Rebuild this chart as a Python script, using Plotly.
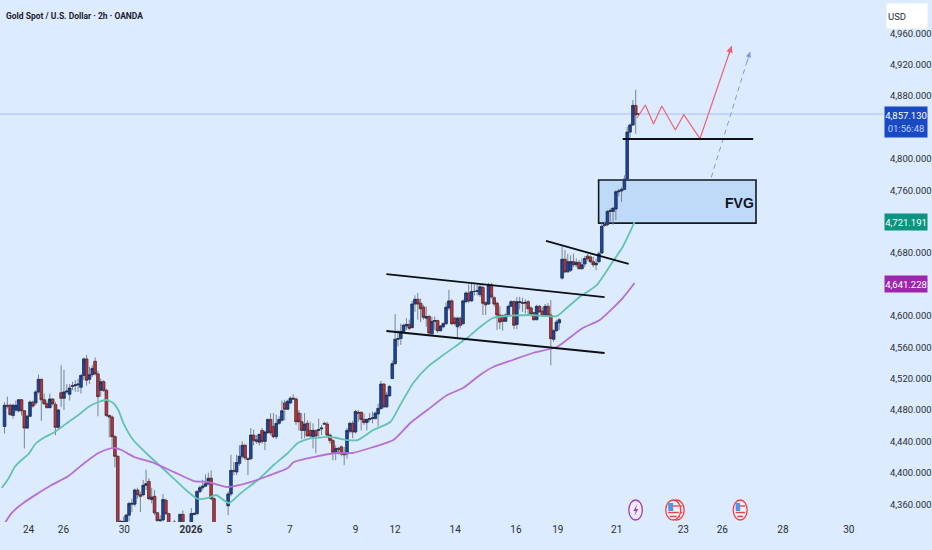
import plotly.graph_objects as go

# gold 2h candles
opens = [
    4459, 4486, 4486, 4473, 4480, 4479, 4493, 4479, 4457, 4472, 4490, 4489, 4503, 4519, 4493, 4488, 4483, 4494, 4487, 4458,
    4502, 4495, 4503, 4500, 4510, 4511, 4512, 4509, 4524, 4545, 4519, 4525, 4542, 4526, 4505, 4516, 4505, 4473, 4471, 4446,
    4421, 4337, 4337, 4338, 4346, 4360, 4360, 4378, 4372, 4372, 4384, 4389, 4366, 4370, 4349, 4339, 4340, 4365, 4348, 4333,
    4336, 4335, 4336, 4347, 4334, 4330, 4336, 4347, 4348, 4376, 4381, 4383, 4386, 4393, 4367, 4330, 4331, 4332, 4330, 4358,
    4373, 4403, 4401, 4412, 4421, 4435, 4418, 4418, 4448, 4442, 4439, 4454, 4440, 4451, 4468, 4459, 4446, 4463, 4467, 4489,
    4481, 4489, 4495, 4494, 4476, 4465, 4454, 4463, 4454, 4446, 4454, 4454, 4456, 4463, 4462, 4448, 4441, 4426, 4431, 4433,
    4425, 4424, 4453, 4463, 4452, 4477, 4477, 4468, 4464, 4468, 4469, 4469, 4475, 4482, 4513, 4484, 4498, 4520, 4539, 4570,
    4571, 4580, 4587, 4589, 4585, 4615, 4621, 4616, 4611, 4597, 4599, 4577, 4593, 4594, 4581, 4586, 4590, 4610, 4619, 4597,
    4586, 4597, 4590, 4618, 4629, 4619, 4631, 4631, 4627, 4636, 4617, 4615, 4639, 4623, 4616, 4601, 4600, 4593, 4600, 4612,
    4618, 4589, 4617, 4617, 4616, 4618, 4610, 4604, 4595, 4612, 4606, 4600, 4612, 4601, 4570, 4581, 4591, 4648, 4672, 4656,
    4658, 4669, 4665, 4668, 4660, 4666, 4676, 4675, 4669, 4665, 4669, 4680, 4715, 4716, 4733, 4733, 4736, 4758, 4759, 4761,
    4774, 4834, 4843, 4868, 4857,
]
highs = [
    4490, 4497, 4488, 4488, 4492, 4494, 4494, 4480, 4474, 4492, 4492, 4505, 4525, 4520, 4501, 4492, 4501, 4495, 4490, 4481,
    4537, 4531, 4513, 4513, 4516, 4518, 4520, 4526, 4547, 4550, 4535, 4537, 4547, 4530, 4520, 4518, 4507, 4474, 4473, 4448,
    4422, 4340, 4344, 4348, 4363, 4367, 4380, 4381, 4376, 4391, 4404, 4393, 4381, 4378, 4350, 4346, 4373, 4367, 4349, 4335,
    4340, 4336, 4348, 4352, 4335, 4335, 4355, 4350, 4378, 4384, 4391, 4398, 4400, 4403, 4369, 4333, 4334, 4335, 4334, 4376,
    4423, 4414, 4423, 4435, 4440, 4437, 4420, 4457, 4455, 4448, 4448, 4457, 4454, 4469, 4476, 4476, 4474, 4472, 4492, 4493,
    4493, 4497, 4500, 4496, 4480, 4476, 4476, 4467, 4465, 4463, 4454, 4469, 4461, 4465, 4465, 4450, 4443, 4435, 4433, 4435,
    4433, 4457, 4465, 4466, 4480, 4480, 4478, 4476, 4469, 4476, 4478, 4478, 4488, 4517, 4514, 4503, 4512, 4543, 4602, 4582,
    4590, 4590, 4597, 4595, 4619, 4626, 4629, 4622, 4614, 4612, 4601, 4599, 4599, 4595, 4588, 4592, 4617, 4633, 4621, 4599,
    4599, 4599, 4621, 4631, 4640, 4641, 4640, 4640, 4640, 4639, 4618, 4642, 4642, 4625, 4618, 4612, 4602, 4603, 4614, 4620,
    4620, 4624, 4624, 4623, 4621, 4620, 4612, 4605, 4614, 4614, 4611, 4615, 4616, 4620, 4583, 4595, 4597, 4688, 4684, 4679,
    4677, 4679, 4673, 4671, 4673, 4676, 4679, 4677, 4675, 4673, 4682, 4718, 4720, 4735, 4737, 4739, 4760, 4762, 4764, 4779,
    4841, 4845, 4875, 4888, 4858,
]
lows = [
    4450, 4482, 4473, 4469, 4477, 4477, 4473, 4431, 4456, 4471, 4483, 4486, 4501, 4466, 4486, 4482, 4482, 4486, 4448, 4456,
    4484, 4480, 4501, 4492, 4505, 4503, 4503, 4501, 4518, 4511, 4513, 4522, 4524, 4472, 4497, 4503, 4471, 4445, 4433, 4407,
    4325, 4330, 4330, 4335, 4338, 4350, 4357, 4367, 4350, 4370, 4378, 4365, 4361, 4346, 4338, 4335, 4338, 4346, 4330, 4325,
    4330, 4325, 4330, 4332, 4325, 4325, 4330, 4346, 4346, 4374, 4378, 4382, 4384, 4365, 4330, 4320, 4322, 4325, 4322, 4346,
    4370, 4397, 4397, 4409, 4418, 4416, 4397, 4416, 4435, 4437, 4435, 4437, 4429, 4450, 4448, 4444, 4443, 4461, 4465, 4467,
    4480, 4488, 4493, 4461, 4454, 4443, 4444, 4446, 4444, 4431, 4425, 4446, 4448, 4461, 4447, 4437, 4416, 4416, 4423, 4421,
    4410, 4418, 4450, 4444, 4450, 4465, 4454, 4461, 4454, 4465, 4463, 4468, 4459, 4480, 4482, 4483, 4497, 4520, 4538, 4561,
    4563, 4578, 4582, 4582, 4584, 4605, 4595, 4592, 4595, 4586, 4575, 4575, 4582, 4578, 4580, 4584, 4588, 4607, 4588, 4588,
    4573, 4584, 4588, 4616, 4616, 4618, 4626, 4626, 4624, 4601, 4601, 4614, 4622, 4612, 4582, 4583, 4581, 4592, 4599, 4611,
    4583, 4583, 4608, 4605, 4603, 4601, 4599, 4594, 4595, 4604, 4599, 4599, 4600, 4537, 4567, 4580, 4582, 4646, 4654, 4655,
    4656, 4662, 4662, 4659, 4659, 4662, 4670, 4667, 4662, 4658, 4667, 4679, 4713, 4714, 4720, 4716, 4722, 4752, 4745, 4760,
    4773, 4824, 4842, 4832, 4855,
]
closes = [
    4486, 4485, 4474, 4486, 4486, 4493, 4479, 4457, 4472, 4490, 4485, 4503, 4519, 4493, 4488, 4483, 4494, 4488, 4458, 4480,
    4495, 4503, 4504, 4508, 4511, 4512, 4513, 4524, 4545, 4518, 4525, 4533, 4526, 4497, 4516, 4505, 4473, 4471, 4446, 4421,
    4335, 4338, 4338, 4346, 4361, 4361, 4378, 4372, 4370, 4384, 4386, 4367, 4369, 4349, 4339, 4340, 4366, 4348, 4335, 4330,
    4337, 4333, 4347, 4336, 4332, 4333, 4348, 4348, 4376, 4381, 4383, 4386, 4393, 4367, 4333, 4331, 4332, 4330, 4332, 4373,
    4403, 4402, 4413, 4421, 4435, 4419, 4417, 4448, 4441, 4440, 4449, 4440, 4452, 4468, 4451, 4446, 4463, 4468, 4479, 4481,
    4491, 4495, 4494, 4465, 4465, 4454, 4462, 4447, 4447, 4454, 4447, 4455, 4457, 4462, 4448, 4441, 4426, 4431, 4430, 4424,
    4423, 4454, 4463, 4452, 4478, 4476, 4468, 4464, 4468, 4469, 4470, 4476, 4482, 4513, 4484, 4499, 4510, 4539, 4570, 4571,
    4580, 4588, 4589, 4584, 4615, 4621, 4615, 4609, 4598, 4599, 4578, 4593, 4594, 4581, 4587, 4590, 4611, 4619, 4590, 4590,
    4597, 4588, 4619, 4629, 4619, 4631, 4631, 4632, 4637, 4616, 4614, 4639, 4624, 4615, 4601, 4592, 4593, 4601, 4612, 4618,
    4588, 4618, 4618, 4616, 4617, 4609, 4602, 4595, 4612, 4605, 4600, 4612, 4601, 4571, 4581, 4592, 4595, 4672, 4656, 4669,
    4669, 4665, 4668, 4660, 4665, 4673, 4673, 4669, 4665, 4667, 4679, 4714, 4716, 4733, 4734, 4737, 4758, 4759, 4761, 4774,
    4834, 4843, 4868, 4856, 4857,
]
bar_index = list(range(1, len(opens) + 1))
body_high = [max(o, c) for o, c in zip(opens, closes)]
body_low = [min(o, c) for o, c in zip(opens, closes)]

# moving averages (sparse readings)
ema_index = [0, 2.5, 4.6, 7, 9.5, 11.6, 14.1, 18.7, 23.6, 27.1, 30.6, 34.2, 37, 39.4, 41.2, 43, 46.5, 51, 55.6, 60.6, 65.1,
             69.4, 72.9, 75.7, 80.3, 84.5, 90.5, 96.1, 101.1, 104.6, 108.1, 116.2, 122.2, 125.7, 131.3, 137.3, 140.8, 145.4,
             150.4, 156, 164.4, 169, 173.6, 186.6, 196.1, 199.6, 204.2, 210.2, 215.8, 219.4, 223.6]
ema_fast = [4380.6, 4393.3, 4407.3, 4416.3, 4423.9, 4435.4, 4443, 4452, 4464.7, 4473.6, 4483.8, 4490.2, 4492.7, 4488.9, 4480,
            4463.4, 4441.7, 4425.2, 4409.9, 4393.3, 4378, 4366.6, 4367.9, 4371.7, 4361.5, 4374.2, 4390.8, 4409.9, 4425.2,
            4437.9, 4443, 4445.6, 4441.7, 4441.7, 4454.5, 4464.7, 4486.3, 4514.4, 4534.7, 4550, 4571.7, 4585.7, 4597.2, 4601,
            4599.7, 4609.9, 4623.9, 4639.2, 4668.5, 4687.6, 4719.5]
slow_index = [1.1, 3.5, 8.1, 13, 17.6, 23.6, 29.2, 34.2, 37.7, 39.8, 42.3, 46.8, 53.9, 60.9, 68, 72.9, 79.9, 87, 94, 101.1,
              103.2, 110.2, 118.7, 123.9, 131.3, 138.4, 144.4, 150.4, 157.4, 163, 169, 173.6, 180.6, 187.7, 196.1, 199.6,
              205.3, 211.3, 219.4, 223.6]
ema_slow = [4336, 4348.7, 4362.7, 4374.2, 4384.4, 4395.9, 4412.4, 4425.2, 4430.3, 4431.6, 4429, 4420.1, 4412.4, 4400.9, 4389.5,
            4388.2, 4381.9, 4387, 4395.9, 4406.1, 4413.7, 4420.1, 4425.2, 4425.2, 4432.8, 4441.7, 4463.4, 4480, 4499.1, 4508,
            4524.6, 4534.7, 4543.7, 4552.6, 4560.2, 4569.1, 4584.4, 4594.6, 4622.6, 4641.8]

# hand drawn projection
path_index = [224.4, 227.4, 230.3, 233.2, 238, 241, 246.7, 257.9]
path_price = [4851.6, 4868.5, 4844.3, 4867.2, 4836.7, 4856.2, 4825.6, 4943.7]
alt_index = [250.7, 264.4]
alt_price = [4776.4, 4936.4]

x_tick_vals = [9.5, 21.8, 43.3, 66.9, 80.3, 101.8, 125, 139, 160.2, 181.7, 196.5, 217.3, 240.8, 254.6, 276, 299.3]
x_tick_text = ["24", "26", "30", "<b>2026</b>", "5", "7", "9", "12", "14", "16", "19", "21", "23", "26", "28", "30"]
y_tick_vals = [4360, 4400, 4440, 4480, 4520, 4560, 4600, 4680, 4760, 4800, 4880, 4920, 4960]

last_price = 4857.13
BG = "#DCEBFE"
TXT = "#2a2e39"
FONT = "Roboto, Liberation Sans, sans-serif"
PLOT_W = 886
PLOT_H = 522


def px(x):
    return x / PLOT_W


def py(y):
    return 1 - y / PLOT_H


fig = go.Figure()

fig.add_trace(go.Scatter(x=ema_index, y=ema_fast, mode="lines", line=dict(color="#62c3ae", width=1.8, shape="spline", smoothing=0.6)))
fig.add_trace(go.Scatter(x=slow_index, y=ema_slow, mode="lines", line=dict(color="#b76fd8", width=1.8, shape="spline", smoothing=0.6)))

# grey wicks first, then dark edged bodies over them
fig.add_trace(go.Candlestick(
    x=bar_index, open=opens, high=highs, low=lows, close=closes,
    increasing=dict(fillcolor="#1b479f", line=dict(color="#7c8390", width=1)),
    decreasing=dict(fillcolor="#b8363c", line=dict(color="#7c8390", width=1)),
    whiskerwidth=0,
))
fig.add_trace(go.Candlestick(
    x=bar_index, open=opens, high=body_high, low=body_low, close=closes,
    increasing=dict(fillcolor="#1b479f", line=dict(color="#17223f", width=0.5)),
    decreasing=dict(fillcolor="#b8363c", line=dict(color="#3c2024", width=0.5)),
    whiskerwidth=0,
))

fig.add_trace(go.Scatter(x=path_index, y=path_price, mode="lines", line=dict(color="#ef6474", width=1.2)))
fig.add_trace(go.Scatter(x=alt_index, y=alt_price, mode="lines", line=dict(color="#7f9be0", width=1, dash="5px,4px")))

shapes = []
# last price line
shapes.append(dict(type="line", xref="paper", yref="y", x0=0, x1=1, y0=last_price, y1=last_price,
                   line=dict(color="#bccbf6", width=1.5), layer="below"))
# FVG box
shapes.append(dict(type="rect", xref="x", yref="y", x0=210.9, x1=266.5, y0=4718, y1=4773,
                   fillcolor="#bfdaf9", line=dict(color="#14181f", width=1.6), layer="below"))
# trend lines
for x0, y0, x1, y1 in [(135.9, 4653.2, 213, 4623.9), (135.9, 4580.6, 213, 4552.6),
                       (192.3, 4695.3, 221.5, 4666), (219.4, 4825.2, 265.5, 4825.2)]:
    shapes.append(dict(type="line", xref="x", yref="y", x0=x0, y0=y0, x1=x1, y1=y1,
                       line=dict(color="#0c0f14", width=1.8)))

# event icons along the bottom
shapes.append(dict(type="circle", xref="paper", yref="paper", x0=px(631), x1=px(644.5), y0=py(520), y1=py(500),
                   fillcolor="#f3ecfa", line=dict(color="#9c3fc0", width=1.3)))
bolt = [(639.5, 504), (635.5, 511), (638, 511), (636.5, 516), (640.5, 509), (638, 509)]
shapes.append(dict(type="path", xref="paper", yref="paper",
                   path="M " + " L ".join(f"{px(a):.5f},{py(b):.5f}" for a, b in bolt) + " Z",
                   fillcolor="#9c3fc0", line=dict(width=0)))
for cx, w in [(679, 15), (675.5, 15), (742.7, 14)]:
    x0 = cx - w / 2
    x1 = cx + w / 2
    shapes.append(dict(type="circle", xref="paper", yref="paper", x0=px(x0), x1=px(x1), y0=py(520), y1=py(500),
                       fillcolor="#f7eef0", line=dict(color="#ee3f4c", width=1.3)))
    shapes.append(dict(type="rect", xref="paper", yref="paper", x0=px(x0 + 2.5), x1=px(cx), y0=py(511), y1=py(503),
                       fillcolor="#4f95e8", line=dict(width=0)))
    shapes.append(dict(type="line", xref="paper", yref="paper", x0=px(cx), x1=px(x1 - 2), y0=py(506), y1=py(506),
                       line=dict(color="#ee3f4c", width=1.4)))
    shapes.append(dict(type="line", xref="paper", yref="paper", x0=px(x0 + 2.5), x1=px(x1 - 2), y0=py(512.5), y1=py(512.5),
                       line=dict(color="#ee3f4c", width=1.4)))
    shapes.append(dict(type="line", xref="paper", yref="paper", x0=px(x0 + 4), x1=px(x1 - 4), y0=py(516.5), y1=py(516.5),
                       line=dict(color="#ee3f4c", width=1.4)))

annotations = [
    dict(xref="paper", yref="paper", x=px(4), y=py(16), xanchor="left", yanchor="middle", showarrow=False,
         text="<b>Gold Spot / U.S. Dollar · 2h · OANDA</b>", font=dict(family=FONT, size=8.5, color="#1c2030")),
    dict(xref="x", yref="y", x=260.6, y=4743.7, showarrow=False, text="<b>FVG</b>",
         font=dict(family="Liberation Sans", size=14, color="#10141c")),
    # arrow heads
    dict(xref="x", yref="y", axref="x", ayref="y", x=257.9, y=4943.7, ax=256.6, ay=4930, text="", showarrow=True,
         arrowhead=2, arrowsize=1.1, arrowwidth=1.2, arrowcolor="#ef6474"),
    dict(xref="x", yref="y", axref="x", ayref="y", x=264.4, y=4936.4, ax=263.2, ay=4922, text="", showarrow=True,
         arrowhead=2, arrowsize=1.1, arrowwidth=1, arrowcolor="#7f9be0"),
    # price scale tags
    dict(xref="paper", yref="paper", x=px(889), y=py(16), xanchor="left", yanchor="middle", showarrow=False,
         width=38, height=22, bgcolor="#ffffff", borderpad=1, align="left", text="USD",
         font=dict(family=FONT, size=9.5, color=TXT)),
    dict(xref="paper", yref="paper", x=px(887), y=py(122), xanchor="left", yanchor="middle", showarrow=False,
         width=42, height=30, bgcolor="#1a49c4", borderpad=0, align="center",
         text="4,857.130<br><span style='color:#bcd0fb'>01:56:48</span>",
         font=dict(family=FONT, size=9.5, color="#ffffff")),
    dict(xref="paper", yref="paper", x=px(887), y=py(222), xanchor="left", yanchor="middle", showarrow=False,
         width=42, height=16, bgcolor="#0b9480", borderpad=0, align="center", text="4,721.191",
         font=dict(family=FONT, size=9.5, color="#ffffff")),
    dict(xref="paper", yref="paper", x=px(887), y=py(284), xanchor="left", yanchor="middle", showarrow=False,
         width=42, height=16, bgcolor="#9c27ad", borderpad=0, align="center", text="4,641.228",
         font=dict(family=FONT, size=9.5, color="#ffffff")),
]

fig.update_layout(
    width=932, height=550,
    margin=dict(l=0, r=44, t=0, b=28),
    paper_bgcolor=BG, plot_bgcolor=BG,
    showlegend=False,
    boxgap=0.1, boxgroupgap=0, boxmode="overlay",
    shapes=shapes,
    annotations=annotations,
    xaxis=dict(range=[-0.6, PLOT_W / 2.84 - 0.6], rangeslider=dict(visible=False), showgrid=False, zeroline=False,
               tickmode="array", tickvals=x_tick_vals, ticktext=x_tick_text, ticks="", showline=False,
               tickfont=dict(family=FONT, size=10, color=TXT)),
    yaxis=dict(range=[4337.3, 5002.3], side="right", showgrid=False, zeroline=False, showline=False,
               tickmode="array", tickvals=y_tick_vals, tickformat=",.3f", ticks="outside", ticklen=4,
               tickcolor="rgba(0,0,0,0)", tickfont=dict(family=FONT, size=9.5, color=TXT)),
)

# drop the page's default margin so the chart fills the window
fig.write_html("out.html", config={"displayModeBar": False},
               post_script="document.body.style.margin='0';document.body.style.background='#DCEBFE';")
